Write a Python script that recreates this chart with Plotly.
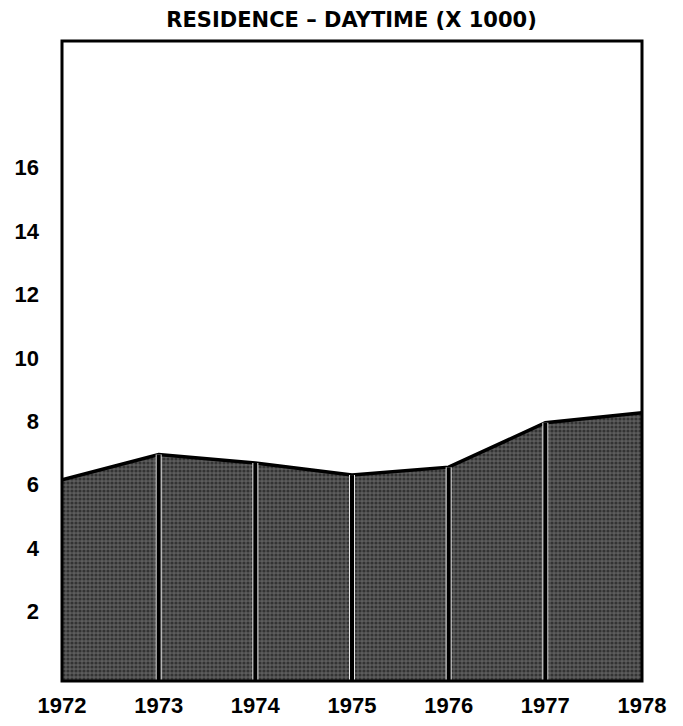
import plotly.graph_objects as go

years = [1972, 1973, 1974, 1975, 1976, 1977, 1978]
values = [6.15, 6.95, 6.68, 6.3, 6.55, 7.95, 8.27]
y_ticks = [2, 4, 6, 8, 10, 12, 14, 16]
title_text = "RESIDENCE \u2013 DAYTIME (X 1000)"

y_min, y_max = -0.2, 20.0

fig = go.Figure()

# baseline at bottom of the frame
fig.add_trace(go.Scatter(x=years, y=[y_min] * len(years), mode="lines",
                         line=dict(width=0, color="rgba(0,0,0,0)"),
                         hoverinfo="skip", showlegend=False))
fig.add_trace(go.Scatter(
    x=years, y=values, mode="lines",
    fill="tonexty",
    fillcolor="#4a4a4a",
    fillpattern=dict(shape=".", bgcolor="#5c5c5c", fgcolor="#0a0a0a",
                     size=4, solidity=0.5),
    line=dict(color="black", width=3.5),
    hoverinfo="skip", showlegend=False,
))

# vertical separators at each interior year
vx, vy = [], []
for yr, v in zip(years[1:-1], values[1:-1]):
    vx += [yr, yr, None]
    vy += [y_min, v, None]
fig.add_trace(go.Scatter(x=vx, y=vy, mode="lines",
                         line=dict(color="#e8e8e8", width=6),
                         hoverinfo="skip", showlegend=False))
fig.add_trace(go.Scatter(x=vx, y=vy, mode="lines",
                         line=dict(color="black", width=4),
                         hoverinfo="skip", showlegend=False))

tick_font = "Liberation Sans Narrow, Arial Narrow, Liberation Sans, sans-serif"
title_font = "DejaVu Sans, Verdana, sans-serif"

fig.update_layout(
    width=683, height=726,
    margin=dict(l=54, r=49, t=33, b=53, autoexpand=False),
    paper_bgcolor="white", plot_bgcolor="white",
    title=dict(text="<b>" + title_text + "</b>", x=0.503, xanchor="center",
               y=1 - 12 / 726, yanchor="middle",
               font=dict(family=title_font, size=21, color="black")),
    font=dict(family=tick_font, color="black"),
)

fig.update_xaxes(
    range=[years[0], years[-1]],
    tickvals=years, ticktext=["<b>%d</b>" % y for y in years],
    tickfont=dict(size=22, family=tick_font, color="black"),
    showgrid=False, zeroline=False, showline=False,
    ticks="", ticklabelstandoff=9, automargin=False,
)
fig.update_yaxes(
    range=[y_min, y_max],
    tickvals=y_ticks, ticktext=["<b>%d</b>" % t for t in y_ticks],
    tickfont=dict(size=22, family=tick_font, color="black"),
    showgrid=False, zeroline=False, showline=False,
    ticks="", ticklabelstandoff=22, automargin=False,
)

# frame around plot area
fig.add_shape(type="rect", xref="paper", yref="paper", x0=0, y0=0, x1=1, y1=1,
              line=dict(color="black", width=3), layer="above")

fig.write_html("out.html")
